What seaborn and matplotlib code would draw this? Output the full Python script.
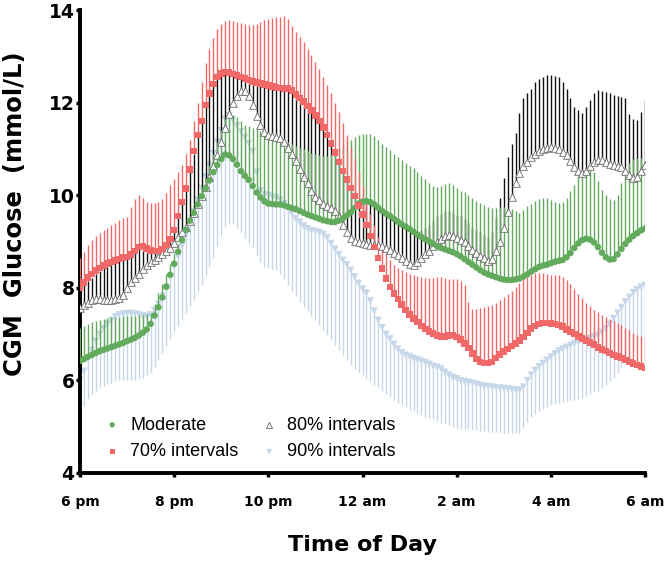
import numpy as np
import pandas as pd
import seaborn as sns
import matplotlib.pyplot as plt

# -------------------------------
# Data: CGM glucose every 5 min, 6 pm -> 6 am
# -------------------------------
minutes = np.arange(0, 725, 5)
hours = minutes / 60

moderate = [
    6.42, 6.46, 6.51, 6.55, 6.59, 6.63, 6.66, 6.69, 6.72, 6.75, 6.78, 6.81,
    6.85, 6.88, 6.92, 6.97, 7.03, 7.10, 7.22, 7.40, 7.58, 7.79, 8.02, 8.28,
    8.52, 8.78, 9.03, 9.25, 9.45, 9.62, 9.80, 9.98, 10.15, 10.32, 10.50, 10.65,
    10.78, 10.88, 10.86, 10.78, 10.66, 10.52, 10.42, 10.33, 10.20, 10.06, 9.95, 9.87,
    9.82, 9.81, 9.80, 9.80, 9.78, 9.75, 9.72, 9.70, 9.66, 9.62, 9.58, 9.55,
    9.52, 9.49, 9.46, 9.44, 9.42, 9.42, 9.45, 9.50, 9.56, 9.63, 9.72, 9.82,
    9.86, 9.87, 9.85, 9.80, 9.73, 9.66, 9.60, 9.55, 9.49, 9.43, 9.37, 9.32,
    9.27, 9.21, 9.15, 9.10, 9.05, 9.00, 8.95, 8.90, 8.86, 8.83, 8.80, 8.77,
    8.73, 8.68, 8.62, 8.56, 8.50, 8.44, 8.38, 8.33, 8.29, 8.26, 8.23, 8.20,
    8.18, 8.17, 8.17, 8.18, 8.20, 8.24, 8.29, 8.35, 8.40, 8.45, 8.48, 8.50,
    8.53, 8.56, 8.58, 8.60, 8.66, 8.75, 8.86, 8.96, 9.03, 9.06, 9.04, 8.98,
    8.88, 8.76, 8.66, 8.61, 8.62, 8.72, 8.84, 8.95, 9.04, 9.12, 9.18, 9.24,
    9.28,
]
moderate_hi = [
    7.13, 7.18, 7.22, 7.26, 7.28, 7.31, 7.33, 7.35, 7.37, 7.38, 7.38, 7.39,
    7.39, 7.40, 7.40, 7.41, 7.42, 7.44, 7.46, 7.65, 7.88, 8.08, 8.30, 8.52,
    8.75, 8.95, 9.15, 9.35, 9.55, 9.75, 9.95, 10.15, 10.35, 10.65, 10.90, 11.15,
    11.40, 11.65, 11.72, 11.73, 11.68, 11.60, 11.52, 11.50, 11.46, 11.42, 11.38, 11.34,
    11.32, 11.28, 11.24, 11.21, 11.18, 11.14, 11.10, 11.06, 11.03, 11.00, 10.96, 10.92,
    10.88, 10.86, 10.84, 10.84, 10.88, 10.94, 11.02, 11.08, 11.14, 11.20, 11.26, 11.30,
    11.32, 11.33, 11.32, 11.28, 11.20, 11.10, 11.04, 10.98, 10.90, 10.83, 10.76, 10.70,
    10.64, 10.58, 10.50, 10.42, 10.34, 10.26, 10.20, 10.18, 10.20, 10.24, 10.26, 10.22,
    10.16, 10.10, 10.06, 10.00, 9.94, 9.88, 9.83, 9.78, 9.74, 9.72, 9.72, 9.74,
    9.75, 9.73, 9.70, 9.66, 9.61, 9.68, 9.76, 9.82, 9.88, 9.92, 9.94, 9.94,
    9.90, 9.86, 9.83, 9.86, 9.95, 10.08, 10.22, 10.42, 10.50, 10.52, 10.54, 10.50,
    10.30, 10.12, 10.00, 9.92, 9.90, 10.00, 10.26, 10.50, 10.70, 10.78, 10.80, 10.80,
    10.80,
]

p70 = [
    8.00, 8.12, 8.22, 8.30, 8.37, 8.43, 8.48, 8.52, 8.56, 8.59, 8.62, 8.65,
    8.67, 8.72, 8.80, 8.88, 8.90, 8.85, 8.81, 8.80, 8.80, 8.84, 8.92, 9.05,
    9.25, 9.55, 9.85, 10.15, 10.55, 10.95, 11.30, 11.60, 11.95, 12.20, 12.40, 12.55,
    12.63, 12.66, 12.65, 12.62, 12.58, 12.55, 12.52, 12.49, 12.46, 12.43, 12.41, 12.39,
    12.37, 12.35, 12.33, 12.32, 12.31, 12.30, 12.26, 12.18, 12.10, 12.02, 11.93, 11.83,
    11.72, 11.60, 11.46, 11.30, 11.12, 10.92, 10.72, 10.52, 10.34, 10.16, 9.98, 9.78,
    9.58, 9.36, 9.12, 8.88, 8.64, 8.42, 8.20, 8.02, 7.88, 7.76, 7.64, 7.52,
    7.42, 7.34, 7.26, 7.18, 7.11, 7.06, 7.01, 6.97, 6.95, 6.95, 6.97, 6.98,
    6.94, 6.88, 6.80, 6.70, 6.58, 6.46, 6.40, 6.38, 6.38, 6.40, 6.48, 6.56,
    6.62, 6.68, 6.74, 6.80, 6.86, 6.94, 7.02, 7.12, 7.18, 7.22, 7.24, 7.24,
    7.23, 7.22, 7.20, 7.16, 7.10, 7.05, 7.00, 6.95, 6.90, 6.86, 6.82, 6.77,
    6.71, 6.67, 6.63, 6.59, 6.55, 6.52, 6.48, 6.44, 6.40, 6.37, 6.33, 6.30,
    6.27,
]
p70_hi = [
    8.64, 8.78, 8.92, 9.03, 9.12, 9.18, 9.24, 9.30, 9.36, 9.41, 9.46, 9.50,
    9.52, 9.75, 9.92, 10.00, 9.95, 9.86, 9.83, 9.83, 9.85, 9.92, 10.05, 10.22,
    10.35, 10.50, 10.65, 10.90, 11.20, 11.60, 12.00, 12.45, 12.85, 13.15, 13.40, 13.60,
    13.70, 13.76, 13.78, 13.76, 13.74, 13.72, 13.70, 13.68, 13.68, 13.70, 13.74, 13.78,
    13.80, 13.82, 13.84, 13.85, 13.86, 13.80, 13.66, 13.52, 13.42, 13.30, 13.16, 13.02,
    12.88, 12.72, 12.55, 12.38, 12.20, 12.00, 11.80, 11.55, 11.30, 11.05, 10.80, 10.50,
    10.20, 9.90, 9.60, 9.35, 9.10, 8.90, 8.75, 8.60, 8.50, 8.42, 8.38, 8.34,
    8.30, 8.28, 8.26, 8.24, 8.22, 8.22, 8.22, 8.23, 8.23, 8.22, 8.20, 8.20,
    8.18, 8.15, 8.05, 7.70, 7.55, 7.55, 7.56, 7.58, 7.60, 7.63, 7.68, 7.74,
    7.80, 7.86, 7.94, 8.02, 8.10, 8.18, 8.24, 8.28, 8.31, 8.32, 8.31, 8.29,
    8.28, 8.27, 8.28, 8.24, 8.17, 8.08, 7.98, 7.87, 7.78, 7.68, 7.60, 7.53,
    7.47, 7.42, 7.37, 7.32, 7.28, 7.24, 7.19, 7.14, 7.08, 7.02, 6.98, 6.95,
    6.94,
]

p80 = [
    7.56, 7.62, 7.68, 7.73, 7.75, 7.75, 7.74, 7.74, 7.74, 7.75, 7.77, 7.85,
    8.00, 8.12, 8.22, 8.30, 8.40, 8.50, 8.56, 8.61, 8.66, 8.72, 8.79, 8.86,
    8.97, 9.10, 9.20, 9.32, 9.45, 9.62, 9.80, 9.98, 10.18, 10.40, 10.62, 10.86,
    11.14, 11.45, 11.76, 12.00, 12.15, 12.24, 12.25, 12.14, 11.95, 11.72, 11.52, 11.36,
    11.29, 11.27, 11.26, 11.24, 11.14, 11.02, 10.90, 10.74, 10.56, 10.40, 10.26, 10.08,
    9.96, 9.90, 9.82, 9.76, 9.72, 9.66, 9.52, 9.36, 9.20, 9.08, 9.02, 8.98,
    8.96, 8.94, 8.92, 8.92, 8.92, 8.90, 8.86, 8.82, 8.76, 8.70, 8.64, 8.58,
    8.52, 8.50, 8.56, 8.64, 8.72, 8.80, 8.90, 8.99, 9.06, 9.12, 9.14, 9.12,
    9.08, 9.04, 8.98, 8.90, 8.82, 8.75, 8.69, 8.64, 8.58, 8.62, 8.80, 9.00,
    9.30, 9.64, 9.96, 10.26, 10.48, 10.62, 10.72, 10.82, 10.88, 10.95, 10.99, 11.02,
    11.04, 11.03, 11.00, 10.94, 10.86, 10.74, 10.60, 10.52, 10.48, 10.52, 10.62, 10.72,
    10.76, 10.75, 10.72, 10.68, 10.65, 10.62, 10.60, 10.52, 10.44, 10.38, 10.40, 10.52,
    10.65,
]
p80_hi = [
    7.95, 8.05, 8.15, 8.22, 8.30, 8.36, 8.42, 8.46, 8.50, 8.54, 8.57, 8.60,
    8.62, 8.67, 8.75, 8.83, 8.85, 8.80, 8.76, 8.75, 8.75, 8.79, 8.87, 9.00,
    9.20, 9.50, 9.80, 10.10, 10.50, 10.90, 11.25, 11.55, 11.90, 12.15, 12.35, 12.50,
    12.58, 12.61, 12.60, 12.57, 12.53, 12.50, 12.47, 12.44, 12.41, 12.38, 12.36, 12.34,
    12.32, 12.30, 12.28, 12.27, 12.26, 12.25, 12.21, 12.13, 12.05, 11.97, 11.88, 11.78,
    11.67, 11.55, 11.41, 11.25, 11.07, 10.87, 10.67, 10.47, 10.29, 10.11, 9.98, 9.90,
    9.86, 9.87, 9.85, 9.80, 9.73, 9.66, 9.60, 9.55, 9.49, 9.43, 9.37, 9.32,
    9.27, 9.21, 9.20, 9.25, 9.30, 9.35, 9.45, 9.55, 9.60, 9.65, 9.65, 9.62,
    9.58, 9.54, 9.48, 9.40, 9.32, 9.25, 9.20, 9.15, 9.10, 9.20, 9.50, 9.94,
    10.37, 10.83, 11.10, 11.34, 11.77, 12.10, 12.20, 12.30, 12.44, 12.50, 12.55, 12.60,
    12.60, 12.58, 12.55, 12.44, 12.30, 12.10, 11.90, 11.84, 11.77, 11.90, 12.05, 12.20,
    12.27, 12.26, 12.23, 12.20, 12.17, 12.14, 12.12, 12.10, 11.75, 11.65, 11.62, 11.80,
    12.06,
]

p90 = [
    6.00, 6.20, 6.45, 6.65, 6.85, 7.00, 7.12, 7.22, 7.30, 7.38, 7.42, 7.44,
    7.45, 7.45, 7.44, 7.42, 7.40, 7.38, 7.42, 7.52, 7.65, 7.82, 8.02, 8.24,
    8.46, 8.68, 8.90, 9.14, 9.40, 9.65, 9.90, 10.15, 10.40, 10.65, 10.90, 11.15,
    11.40, 11.65, 11.72, 11.62, 11.50, 11.38, 11.25, 11.12, 10.95, 10.50, 10.10, 10.02,
    10.00, 9.97, 9.94, 9.90, 9.82, 9.72, 9.60, 9.50, 9.42, 9.34, 9.28, 9.24,
    9.22, 9.20, 9.16, 9.08, 8.96, 8.84, 8.72, 8.60, 8.50, 8.38, 8.24, 8.10,
    7.98, 7.89, 7.72, 7.50, 7.30, 7.14, 7.00, 6.90, 6.78, 6.68, 6.60, 6.55,
    6.52, 6.48, 6.45, 6.42, 6.39, 6.35, 6.31, 6.29, 6.25, 6.18, 6.12, 6.07,
    6.04, 6.00, 5.98, 5.96, 5.94, 5.92, 5.90, 5.88, 5.87, 5.86, 5.85, 5.84,
    5.83, 5.82, 5.81, 5.80, 5.79, 5.86, 6.00, 6.12, 6.22, 6.30, 6.37, 6.44,
    6.51, 6.58, 6.64, 6.68, 6.72, 6.76, 6.80, 6.83, 6.86, 6.89, 6.92, 6.95,
    6.98, 7.04, 7.12, 7.22, 7.34, 7.46, 7.58, 7.70, 7.80, 7.90, 7.96, 8.02,
    8.06,
]
p90_lo = [
    5.30, 5.45, 5.60, 5.70, 5.78, 5.84, 5.88, 5.92, 5.95, 5.98, 6.00, 6.00,
    6.00, 6.00, 6.00, 6.02, 6.06, 6.12, 6.16, 6.30, 6.45, 6.60, 6.75, 6.90,
    7.04, 7.18, 7.32, 7.46, 7.60, 7.74, 7.90, 8.06, 8.25, 8.45, 8.65, 8.90,
    9.12, 9.32, 9.40, 9.37, 9.30, 9.20, 9.08, 8.95, 8.85, 8.70, 8.56, 8.46,
    8.42, 8.40, 8.38, 8.30, 8.18, 8.06, 7.94, 7.82, 7.70, 7.59, 7.49, 7.40,
    7.30, 7.20, 7.09, 6.98, 6.87, 6.76, 6.65, 6.54, 6.44, 6.34, 6.25, 6.18,
    6.11, 6.04, 5.98, 5.91, 5.85, 5.78, 5.71, 5.64, 5.58, 5.52, 5.47, 5.42,
    5.37, 5.34, 5.30, 5.26, 5.22, 5.19, 5.16, 5.12, 5.09, 5.06, 5.03, 5.00,
    4.98, 4.96, 4.95, 4.94, 4.93, 4.92, 4.91, 4.90, 4.89, 4.89, 4.88, 4.88,
    4.87, 4.87, 4.86, 4.86, 4.86, 4.98, 5.10, 5.20, 5.28, 5.33, 5.38, 5.42,
    5.46, 5.49, 5.51, 5.53, 5.55, 5.57, 5.58, 5.60, 5.63, 5.66, 5.70, 5.74,
    5.78, 5.83, 5.90, 5.98, 6.06, 6.16, 6.28, 6.40, 6.52, 6.62, 6.72, 6.80,
    6.87,
]

tick_hours = [0, 2, 4, 6, 8, 10, 12]
tick_labels = ["6 pm", "8 pm", "10 pm", "12 am", "2 am", "4 am", "6 am"]
y_ticks = [4, 6, 8, 10, 12, 14]

GREEN = "#62aa5c"
RED = "#f06868"
BLUE = "#c5d7e9"
BLACK = "#111111"

# -------------------------------
# Figure
# -------------------------------
sns.set_style("ticks")
plt.rcParams["font.family"] = ["DejaVu Sans"]
plt.rcParams.update({"text.color": "black", "axes.labelcolor": "black",
                     "xtick.color": "black", "ytick.color": "black",
                     "axes.edgecolor": "black"})

fig = plt.figure(figsize=(6.66, 5.67), dpi=100)
ax = fig.add_axes([80 / 666, 94 / 567, 565 / 666, 463 / 567])

# error bars (one-sided), drawn back to front
ax.vlines(hours, p90_lo, p90, color=BLUE, lw=1.0, zorder=1)
sns.scatterplot(x=hours, y=p90, ax=ax, marker="v", s=26, color=BLUE,
                edgecolor="none", linewidth=0, zorder=2, label="90% intervals")
ax.vlines(hours, p80, p80_hi, color=BLACK, lw=1.0, zorder=3)
ax.vlines(hours, moderate, moderate_hi, color=GREEN, lw=1.0, zorder=4)
ax.vlines(hours, p70, p70_hi, color=RED, lw=1.0, zorder=5)
sns.scatterplot(x=hours, y=p80, ax=ax, marker="^", s=30, color="white",
                edgecolor="#666666", linewidth=0.6, zorder=6, label="80% intervals")
sns.scatterplot(x=hours, y=moderate, ax=ax, marker="o", s=22, color=GREEN,
                edgecolor="none", linewidth=0, zorder=7, label="Moderate")
sns.scatterplot(x=hours, y=p70, ax=ax, marker="s", s=22, color=RED,
                edgecolor="none", linewidth=0, zorder=8, label="70% intervals")

ax.set_xlim(0, 12)
ax.set_ylim(4, 14)
ax.set_xticks(tick_hours)
ax.set_xticklabels(tick_labels, fontsize=10, fontweight="bold")
ax.set_yticks(y_ticks)
ax.set_yticklabels([str(v) for v in y_ticks], fontsize=13.5, fontweight="bold")
ax.tick_params(axis="x", length=3, width=2.5, pad=13)
ax.tick_params(axis="y", length=3, width=2.5, pad=1)

for side in ["top", "right"]:
    ax.spines[side].set_visible(False)
for side in ["left", "bottom"]:
    ax.spines[side].set_linewidth(2.8)

ax.set_xlabel("Time of Day", fontsize=16, fontweight="bold")
ax.xaxis.set_label_coords(0.5, -0.133)
ax.set_ylabel("CGM  Glucose  (mmol/L)", fontsize=17.5, fontweight="bold")
ax.yaxis.set_label_coords(-0.094, 0.56)

# legend: two columns, Moderate/70% then 80%/90%
handles, labels = ax.get_legend_handles_labels()
order = [labels.index(n) for n in ["Moderate", "70% intervals", "80% intervals", "90% intervals"]]
ax.legend([handles[i] for i in order], [labels[i] for i in order],
          ncol=2, frameon=False, loc="upper left", bbox_to_anchor=(0.041, 0.122),
          prop={"family": "Liberation Sans", "size": 13},
          handlelength=1.0, handletextpad=0.5, columnspacing=1.2,
          labelspacing=0.55, borderpad=0, borderaxespad=0, markerscale=0.8)

fig.savefig("out.png", dpi=100)
